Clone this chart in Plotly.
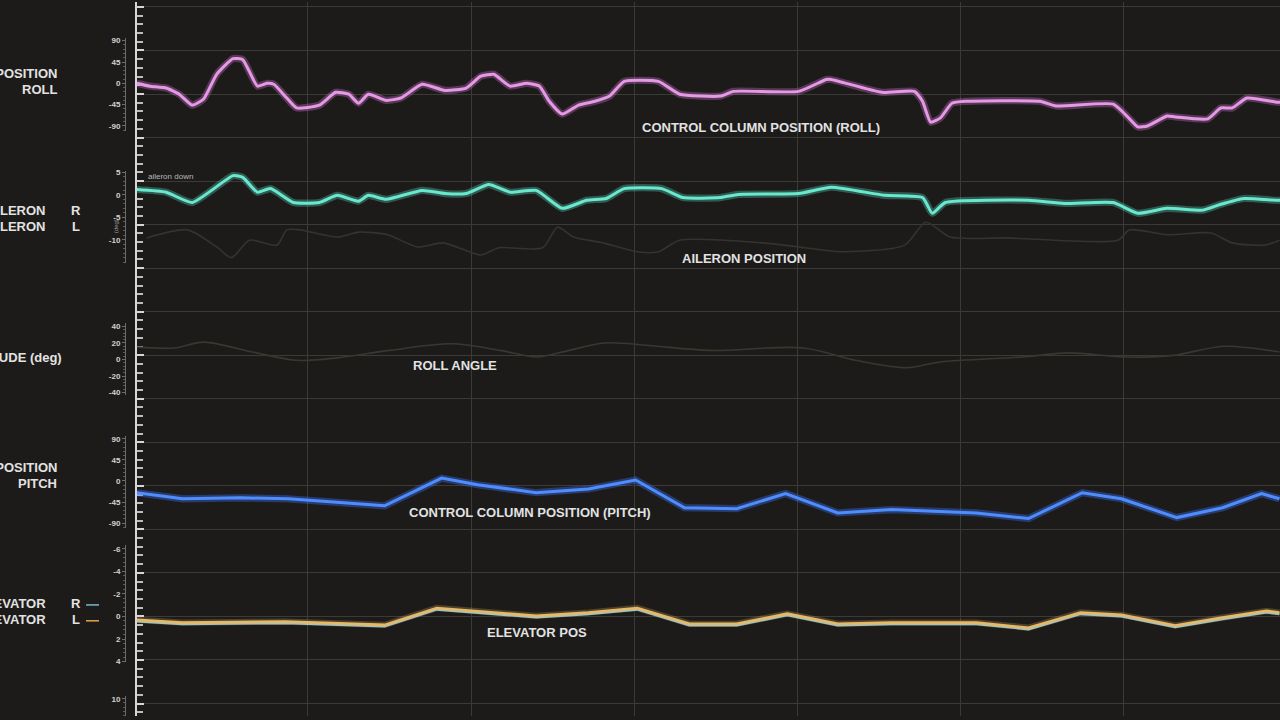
import plotly.graph_objects as go

W, H = 1280, 720

# time axis: one unit per vertical grid division
roll_t = [-0.05, 0.03, 0.13, 0.21, 0.29, 0.36, 0.44, 0.54, 0.60, 0.69, 0.75, 0.79, 0.87, 0.93, 1.07, 1.17,
          1.25, 1.31, 1.37, 1.48, 1.57, 1.70, 1.84, 1.97, 2.06, 2.14, 2.24, 2.34, 2.42, 2.48, 2.56, 2.66,
          2.76, 2.85, 2.94, 3.15, 3.28, 3.53, 3.61, 4.01, 4.18, 4.21, 4.52, 4.72, 4.77, 4.82, 4.88, 4.95,
          5.04, 5.49, 5.59, 5.94, 6.04, 6.09, 6.15, 6.27, 6.32, 6.52, 6.60, 6.67, 6.76, 6.95, 7.00]
roll_deg = [0, -6, -10, -23, -46, -33, 19, 52, 50, -6, 0, -2, -31, -52, -46, -19,
            -23, -42, -23, -36, -31, -2, -15, -10, 15, 19, -6, 0, -6, -38, -65, -46,
            -38, -27, 4, 4, -23, -27, -17, -17, 8, 8, -19, -17, -38, -82, -73, -42,
            -38, -38, -48, -44, -75, -92, -90, -69, -71, -75, -52, -52, -31, -40, -40]

ail_r_t = [-0.05, 0.13, 0.29, 0.54, 0.60, 0.69, 0.77, 0.91, 1.07, 1.18, 1.31, 1.37, 1.48, 1.70, 1.84,
           1.97, 2.11, 2.24, 2.40, 2.56, 2.71, 2.83, 2.94, 3.17, 3.30, 3.53, 3.64, 4.01, 4.21, 4.54,
           4.77, 4.83, 4.91, 5.42, 5.64, 5.94, 6.09, 6.27, 6.49, 6.60, 6.74, 6.94, 7.00]
ail_r_deg = [1.2, 0.6, -1.7, 4.3, 3.9, 0.6, 1.4, -1.7, -1.7, -0.1, -1.4, -0.1, -1.0, 1.0, 0.3,
             0.3, 2.3, 0.6, 1.0, -3.0, -1.2, -0.8, 1.4, 1.4, -0.6, -0.6, 0.1, 0.3, 1.7, -0.1,
             -0.6, -4.1, -1.7, -1.2, -1.9, -1.7, -4.1, -3.0, -3.4, -2.1, -0.8, -1.2, -1.2]

ail_l_t = [0.01, 0.26, 0.44, 0.53, 0.64, 0.81, 0.87, 0.95, 1.18, 1.31, 1.49, 1.67, 1.83, 2.06, 2.17,
           2.44, 2.53, 2.63, 2.81, 3.02, 3.15, 3.28, 3.79, 4.05, 4.29, 4.66, 4.79, 4.94, 5.29, 5.97,
           6.04, 6.27, 6.54, 6.67, 6.87, 6.96]
ail_l_deg = [-9.6, -7.8, -11.6, -14.0, -10.1, -11.2, -7.8, -7.8, -9.4, -8.3, -8.9, -11.6, -10.7, -13.4, -11.8,
             -11.8, -7.2, -9.4, -10.7, -12.7, -12.7, -10.1, -10.7, -11.8, -12.7, -11.2, -6.1, -9.4, -9.6, -10.1,
             -7.8, -8.9, -8.5, -10.7, -11.2, -10.1]

att_t = [-0.05, 0.18, 0.36, 0.66, 0.93, 1.18, 1.50, 1.88, 2.18, 2.40, 2.56, 2.82, 3.09, 3.47, 4.04,
         4.36, 4.67, 4.88, 5.38, 5.67, 6.01, 6.31, 6.62, 6.96]
att_deg = [15, 14, 21, 9, -1, 2, 11, 19, 11, 3, 9, 20, 17, 11, 14,
           -1, -10, -3, 3, 8, 3, 5, 16, 9]

pitch_t = [-0.05, 0.23, 0.59, 0.88, 1.47, 1.82, 2.04, 2.40, 2.72, 3.01, 3.31, 3.63, 3.93, 4.25, 4.58,
           5.10, 5.42, 5.75, 5.99, 6.33, 6.61, 6.85, 6.96]
pitch_deg = [-25, -38, -36, -38, -53, 6, -8, -25, -17, 2, -57, -59, -27, -68, -61,
             -68, -80, -25, -38, -78, -57, -27, -38]

elev_t = [-0.05, 0.23, 0.86, 1.47, 1.79, 2.40, 2.72, 3.02, 3.34, 3.63, 3.94, 4.25, 4.58, 5.10, 5.42,
          5.74, 5.99, 6.32, 6.61, 6.88, 6.96]
elev_l = [0.3, 0.55, 0.45, 0.75, -0.75, -0.05, -0.35, -0.75, 0.65, 0.65, -0.25, 0.65, 0.55, 0.55, 1.0,
          -0.35, -0.15, 0.8, 0.1, -0.5, -0.35]
elev_r = [0.42, 0.67, 0.57, 0.87, -0.63, 0.07, -0.23, -0.63, 0.77, 0.77, -0.13, 0.77, 0.67, 0.67, 1.12,
          -0.23, -0.03, 0.92, 0.22, -0.38, -0.23]

roll_ticks = [90, 45, 0, -45, -90]
ail_ticks = [5, 0, -5, -10]
att_ticks = [40, 20, 0, -20, -40]
pitch_ticks = [90, 45, 0, -45, -90]
elev_ticks = [-6, -4, -2, 0, 2, 4]
next_ticks = [10]

BG = "#1c1b19"
GRID = "#3a3a37"
TXT = "#e2e2e2"
FONT = "Liberation Sans"


def px(x):
    return x / W


def py(y):
    return 1 - y / H


def glow_line(fig, t, v, yax, color, glow, width=3, shape="spline"):
    fig.add_trace(go.Scatter(x=t, y=v, xaxis="x", yaxis=yax, mode="lines",
                             line=dict(color=glow, width=width * 2.4, shape=shape, smoothing=0.5),
                             hoverinfo="skip"))
    fig.add_trace(go.Scatter(x=t, y=v, xaxis="x", yaxis=yax, mode="lines",
                             line=dict(color=color, width=width, shape=shape, smoothing=0.5)))


fig = go.Figure()
fig.add_trace(go.Scatter(x=[], y=[], xaxis="x", yaxis="y"))
fig.add_trace(go.Scatter(x=[], y=[], xaxis="x", yaxis="y7"))

glow_line(fig, roll_t, roll_deg, "y2", "#e598e5", "rgba(214,120,214,0.32)")
fig.add_trace(go.Scatter(x=ail_l_t, y=ail_l_deg, xaxis="x", yaxis="y3", mode="lines",
                         line=dict(color="#34332f", width=1.6, shape="spline", smoothing=0.7)))
glow_line(fig, ail_r_t, ail_r_deg, "y3", "#6ae8cf", "rgba(90,225,195,0.32)")
fig.add_trace(go.Scatter(x=att_t, y=att_deg, xaxis="x", yaxis="y4", mode="lines",
                         line=dict(color="#3c3631", width=1.6, shape="spline", smoothing=0.9)))
glow_line(fig, pitch_t, pitch_deg, "y5", "#4f8dff", "rgba(60,120,255,0.36)", shape="linear")
fig.add_trace(go.Scatter(x=elev_t, y=elev_r, xaxis="x", yaxis="y6", mode="lines",
                         line=dict(color="#8ccbe0", width=2.6)))
glow_line(fig, elev_t, elev_l, "y6", "#e6b968", "rgba(230,175,90,0.25)", width=2.6, shape="linear")


def panel_axis(domain, rng, ticks, minor_step):
    return dict(domain=domain, range=rng, anchor="free", position=px(125), showline=True,
                linecolor="#6c6c6a", linewidth=1, ticks="outside", ticklen=3, tickcolor="#6c6c6a",
                tickvals=ticks, ticktext=[str(v) for v in ticks],
                tickfont=dict(family=FONT, size=8, color="#d2d2d2", weight="bold"),
                minor=dict(dtick=minor_step, ticks="outside", ticklen=2, tickcolor="#5a5a58"),
                showgrid=False, zeroline=False, fixedrange=True)


fig.update_layout(
    width=W, height=H,
    margin=dict(l=0, r=0, t=0, b=0),
    paper_bgcolor=BG, plot_bgcolor="rgba(0,0,0,0)",
    showlegend=False,
    xaxis=dict(domain=[px(137), 1], range=[-0.049, 6.963], anchor="y",
               tickvals=[1, 2, 3, 4, 5, 6], showticklabels=False, ticks="",
               showgrid=True, gridcolor=GRID, gridwidth=1, zeroline=False, showline=False),
    yaxis=dict(domain=[0, 1], range=[720, 0], anchor="x", showticklabels=False,
               showline=True, linecolor="#d6d6d6", linewidth=2,
               ticks="inside", ticklen=7, tickwidth=1.5, tickcolor="#d6d6d6",
               tick0=5, dtick=43.9,
               minor=dict(tick0=5, dtick=8.78, ticks="inside", ticklen=6, tickcolor="#bdbdbd", showgrid=False),
               showgrid=True, gridcolor=GRID, gridwidth=1, zeroline=False),
    yaxis2=panel_axis([py(130), py(36)], [-100.5, 96.3], roll_ticks, 9),
    yaxis3=panel_axis([py(263), py(170)], [-15.15, 5.42], ail_ticks, 1),
    yaxis4=panel_axis([py(396), py(324)], [-42.6, 43.8], att_ticks, 4),
    yaxis5=panel_axis([py(530), py(438)], [-99.3, 95], pitch_ticks, 9),
    yaxis6=panel_axis([py(666), py(548)], [4.08, -6.3], elev_ticks, 0.4),
    yaxis7=panel_axis([0, py(700)], [11.67, 9.74], next_ticks, 0.4),
)

labels = [
    # text, x, y, xanchor, size, bold
    ("CONTROL COLUMN POSITION", 59, 72, "right", 13, True),
    ("ROLL", 59, 88, "right", 13, True),
    ("AILERON", 48, 210, "right", 13, True),
    ("AILERON", 48, 226, "right", 13, True),
    ("R", 76, 210, "center", 13, True),
    ("L", 76, 226, "center", 13, True),
    ("ATTITUDE (deg)", 64, 358, "right", 13, True),
    ("CONTROL COLUMN POSITION", 59, 469, "right", 13, True),
    ("PITCH", 59, 486, "right", 13, True),
    ("ELEVATOR", 48, 607, "right", 13, True),
    ("ELEVATOR", 48, 623, "right", 13, True),
    ("R", 76, 607, "center", 13, True),
    ("L", 76, 623, "center", 13, True),
    ("CONTROL COLUMN POSITION (ROLL)", 761, 127, "center", 13, True),
    ("AILERON POSITION", 744, 259, "center", 13, True),
    ("ROLL ANGLE", 455, 367, "center", 13, True),
    ("CONTROL COLUMN POSITION (PITCH)", 530, 515, "center", 13, True),
    ("ELEVATOR POS", 537, 636, "center", 13, True),
    ("aileron down", 146, 176, "left", 8, False),
]
for text, x, y, xa, size, bold in labels:
    fig.add_annotation(x=px(x), y=py(y), xref="paper", yref="paper", text=text, showarrow=False,
                       xanchor=xa, yanchor="middle",
                       font=dict(family=FONT, size=size, color=TXT if bold else "#b8b8b8",
                                 weight="bold" if bold else "normal"))

fig.add_annotation(x=px(111), y=py(217), xref="paper", yref="paper", text="(deg)", showarrow=False,
                   textangle=-90, font=dict(family=FONT, size=6, color="#9a9a9a"))

# legend dashes for elevator R / L
fig.add_shape(type="line", xref="paper", yref="paper", x0=px(86), x1=px(99), y0=py(608), y1=py(608),
              line=dict(color="#7fb4d0", width=1.5))
fig.add_shape(type="line", xref="paper", yref="paper", x0=px(86), x1=px(99), y0=py(624), y1=py(624),
              line=dict(color="#e0a848", width=1.5))

# page body margin would shift the figure by 8px
fig.write_html("out.html", config={"displayModeBar": False},
               post_script="document.body.style.margin='0';document.body.style.background='%s';" % BG)
